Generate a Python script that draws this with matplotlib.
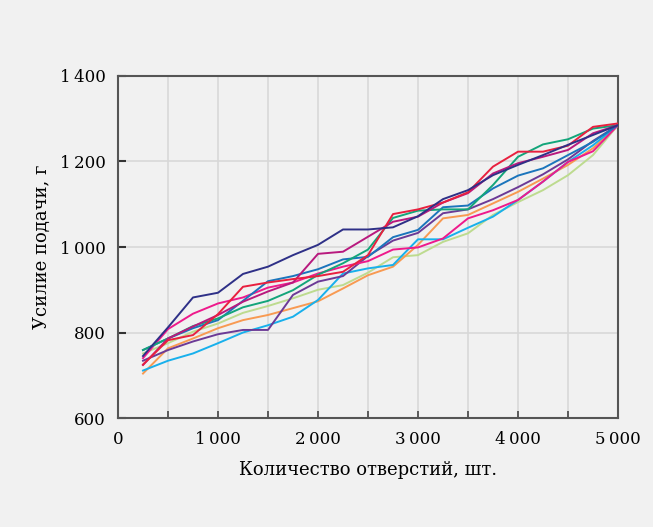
import numpy as np
import matplotlib
matplotlib.use("Agg")
import matplotlib.pyplot as plt
from matplotlib.ticker import FuncFormatter, MultipleLocator

# Количество отверстий (шт.)
holes = np.arange(250, 5001, 250)

# Усилие подачи (г) для каждого сверла
navy = [745, 812, 882, 893, 937, 954, 981, 1005, 1041, 1041,
        1046, 1072, 1112, 1133, 1168, 1192, 1215, 1239, 1262, 1285]
red = [725, 782, 794, 843, 907, 917, 925, 932, 942, 981,
       1077, 1088, 1104, 1128, 1188, 1223, 1223, 1237, 1281, 1289]
green = [759, 786, 815, 833, 859, 874, 899, 935, 962, 994,
         1068, 1085, 1088, 1088, 1145, 1211, 1240, 1252, 1277, 1285]
blue = [759, 786, 810, 829, 874, 920, 932, 948, 971, 977,
        1023, 1040, 1093, 1097, 1137, 1167, 1184, 1215, 1246, 1285]
purple = [734, 759, 779, 796, 806, 806, 888, 919, 932, 979,
          1015, 1033, 1079, 1088, 1112, 1140, 1170, 1205, 1248, 1285]
hot_pink = [740, 808, 844, 868, 882, 905, 917, 938, 954, 967,
            994, 999, 1020, 1067, 1086, 1110, 1153, 1199, 1224, 1285]
magenta = [724, 786, 814, 841, 872, 896, 917, 984, 989, 1024,
           1059, 1071, 1104, 1126, 1172, 1196, 1211, 1227, 1266, 1285]
cyan = [711, 734, 751, 775, 800, 817, 837, 876, 938, 950,
        958, 1018, 1018, 1045, 1071, 1110, 1153, 1199, 1238, 1285]
light_green = [751, 775, 802, 821, 846, 862, 880, 900, 911, 940,
               976, 981, 1012, 1032, 1075, 1105, 1133, 1168, 1215, 1285]
orange = [704, 763, 786, 810, 829, 841, 857, 873, 903, 934,
          954, 1005, 1067, 1075, 1102, 1129, 1160, 1192, 1231, 1285]

series = [
    (light_green, "#bddb8f"),
    (orange, "#f89a52"),
    (cyan, "#18b0ec"),
    (purple, "#6c3a96"),
    (hot_pink, "#ee1a8c"),
    (blue, "#1b75bc"),
    (green, "#13a57a"),
    (magenta, "#b8197e"),
    (red, "#e8203f"),
    (navy, "#2e3087"),
]

bg = "#f1f1f1"
plt.rcParams["font.family"] = ["DejaVu Serif"]

fig = plt.figure(figsize=(6.53, 5.27), dpi=100, facecolor=bg)
ax = fig.add_axes([0.1807, 0.2068, 0.7657, 0.649])
ax.set_facecolor(bg)

for values, color in series:
    ax.plot(holes, values, color=color, lw=1.4, zorder=3)

ax.set_xlim(0, 5000)
ax.set_ylim(600, 1400)
ax.xaxis.set_major_locator(MultipleLocator(1000))
ax.xaxis.set_minor_locator(MultipleLocator(500))
ax.yaxis.set_major_locator(MultipleLocator(200))

fmt = FuncFormatter(lambda v, pos: f"{int(v):,}".replace(",", "\u2009"))
ax.xaxis.set_major_formatter(fmt)
ax.yaxis.set_major_formatter(fmt)

ax.grid(True, which="both", axis="x", color="#d8d8d8", lw=1.2, zorder=0)
ax.grid(True, which="major", axis="y", color="#d8d8d8", lw=1.2, zorder=0)

for s in ax.spines.values():
    s.set_color("#555555")
    s.set_linewidth(1.5)

ax.tick_params(axis="x", which="both", direction="in", length=5, width=1.2,
               color="#444444", labelsize=12, pad=9)
ax.tick_params(axis="y", direction="in", length=6, width=1.5,
               color="#333333", labelsize=12, pad=9)

ax.set_xlabel("Количество отверстий, шт.", fontsize=13, labelpad=10)
ax.set_ylabel("Усилие подачи, г", fontsize=13, labelpad=6)

fig.savefig("out.png", dpi=100, facecolor=bg)
